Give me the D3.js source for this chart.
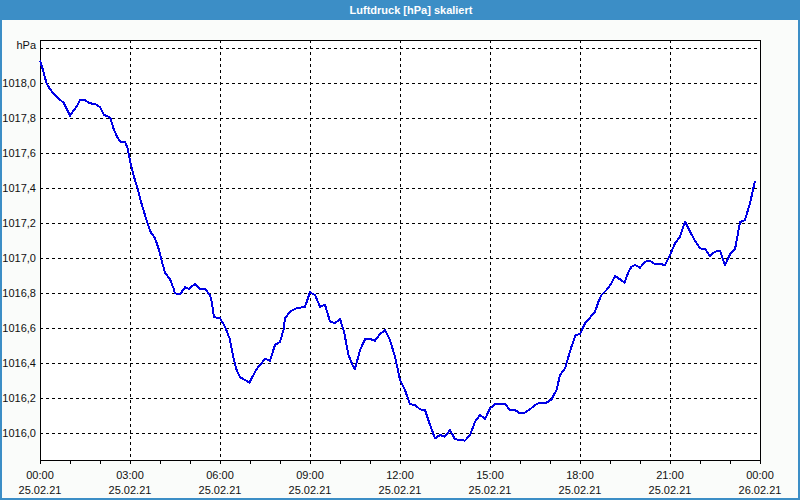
<!DOCTYPE html>
<html><head><meta charset="utf-8">
<script src="https://cdn.jsdelivr.net/npm/d3@7"></script>
<style>
html,body{margin:0;padding:0;background:#fafcfa;}
svg{display:block;}
text{font-family:"Liberation Sans",Arial,sans-serif;}
</style></head>
<body>
<svg id="chart" width="800" height="500"></svg>
<script>
const title = "Luftdruck [hPa] skaliert";
const unitLabel = "hPa";
// minutes since 25.02.21 00:00
const minutes = [0,7,13,20,33,47,52,60,67,73,80,90,99,110,120,128,137,141,148,155,161,170,175,181,188,195,201,208,215,221,230,237,243,250,260,267,270,280,290,298,310,320,330,340,344,348,
360,370,379,385,392,400,410,419,425,433,443,450,460,470,480,487,490,500,513,530,540,550,560,570,580,590,600,608,617,625,630,640,650,660,670,680,690,700,710,
720,730,740,750,760,770,779,790,800,810,820,830,840,850,860,870,880,890,900,910,930,940,950,960,970,980,990,1000,1013,1023,1033,1040,1050,1057,1063,1071,1080,
1090,1100,1110,1117,1123,1133,1143,1150,1160,1169,1177,1183,1190,1200,1210,1220,1230,1240,1250,1260,1270,1280,1290,1300,1310,1320,1330,1340,1350,1360,1370,1380,1390,1400,1410,1420,1430];
const pressure = [1018.13,1018.066,1018.00,1017.966,1017.923,1017.889,1017.863,1017.815,1017.843,1017.866,1017.905,1017.905,1017.886,1017.882,1017.863,1017.819,1017.809,1017.80,1017.733,1017.691,1017.666,1017.666,1017.629,1017.543,1017.466,1017.40,1017.333,1017.266,1017.20,1017.152,1017.114,1017.057,1016.99,1016.918,1016.88,1016.829,1016.80,1016.794,1016.834,1016.826,1016.853,1016.826,1016.826,1016.79,1016.744,1016.664,
1016.657,1016.609,1016.543,1016.457,1016.371,1016.32,1016.305,1016.289,1016.323,1016.366,1016.40,1016.426,1016.415,1016.505,1016.523,1016.59,1016.657,1016.695,1016.714,1016.723,1016.806,1016.79,1016.723,1016.735,1016.638,1016.629,1016.653,1016.581,1016.447,1016.39,1016.367,1016.476,1016.537,1016.539,1016.529,1016.567,1016.59,1016.533,1016.438,
1016.305,1016.247,1016.166,1016.162,1016.137,1016.133,1016.057,1015.971,1015.99,1015.981,1016.019,1015.966,1015.962,1015.958,1015.99,1016.066,1016.105,1016.082,1016.143,1016.166,1016.167,1016.133,1016.133,1016.114,1016.118,1016.137,1016.162,1016.175,1016.175,1016.194,1016.247,1016.333,1016.371,1016.438,1016.495,1016.562,1016.567,
1016.629,1016.661,1016.695,1016.752,1016.79,1016.819,1016.857,1016.899,1016.88,1016.861,1016.923,1016.952,1016.962,1016.946,1016.981,1016.985,1016.966,1016.967,1016.962,1017.019,1017.086,1017.123,1017.209,1017.152,1017.101,1017.057,1017.053,1017.013,1017.038,1017.043,1016.962,1017.023,1017.051,1017.206,1017.219,1017.314,1017.443];
const yTickValues = [1016.0,1016.2,1016.4,1016.6,1016.8,1017.0,1017.2,1017.4,1017.6,1017.8,1018.0];
const yTickLabels = ["1016,0","1016,2","1016,4","1016,6","1016,8","1017,0","1017,2","1017,4","1017,6","1017,8","1018,0"];
const unitLevel = 1018.2;
const xTickMinutes = [0,180,360,540,720,900,1080,1260,1440];
const xTickTimes = ["00:00","03:00","06:00","09:00","12:00","15:00","18:00","21:00","00:00"];
const xTickDates = ["25.02.21","25.02.21","25.02.21","25.02.21","25.02.21","25.02.21","25.02.21","25.02.21","26.02.21"];
const xMinorMinutes = d3.range(0, 1441, 60);

const svg = d3.select("#chart");
const L = 40, R = 760, T = 40, B = 460;
const x = d3.scaleLinear().domain([0,1440]).range([L,R]);
const y = d3.scaleLinear().domain([1015.8474,1018.2474]).range([B,T]);

// frame border + title bar
svg.append("rect").attr("x",0).attr("y",0).attr("width",800).attr("height",500).attr("fill","#fafcfa");
svg.append("rect").attr("x",0).attr("y",0).attr("width",800).attr("height",20).attr("fill","#3c8ec6");
svg.append("rect").attr("x",1).attr("y",1).attr("width",798).attr("height",498).attr("fill","none").attr("stroke","#3c8ec6").attr("stroke-width",2);
svg.append("text").attr("x",411).attr("y",14).attr("text-anchor","middle").attr("fill","#fff")
  .attr("font-weight","bold").attr("font-size","11px").text(title);

// plot area
svg.append("rect").attr("x",L).attr("y",T).attr("width",R-L).attr("height",B-T).attr("fill","#fff");

const g = svg.append("g").attr("shape-rendering","crispEdges");
// horizontal grid
g.selectAll("line.hg").data(yTickValues.concat([unitLevel])).join("line")
  .attr("x1",L).attr("x2",R).attr("y1",d=>Math.round(y(d))+0.5).attr("y2",d=>Math.round(y(d))+0.5)
  .attr("stroke","#000").attr("stroke-dasharray","3,3");
// vertical grid
g.selectAll("line.vg").data(xTickMinutes.slice(1,-1)).join("line")
  .attr("y1",T).attr("y2",B).attr("x1",d=>Math.round(x(d))+0.5).attr("x2",d=>Math.round(x(d))+0.5)
  .attr("stroke","#000").attr("stroke-dasharray","3,3");
// border
g.append("rect").attr("x",L+0.5).attr("y",T+0.5).attr("width",R-L).attr("height",B-T)
  .attr("fill","none").attr("stroke","#000");
// x ticks
g.selectAll("line.xt").data(xMinorMinutes).join("line")
  .attr("x1",d=>Math.round(x(d))+0.5).attr("x2",d=>Math.round(x(d))+0.5).attr("y1",B).attr("y2",B+4)
  .attr("stroke","#000");

// y labels
svg.selectAll("text.yl").data(yTickValues).join("text")
  .attr("x",36).attr("y",d=>y(d)+4).attr("text-anchor","end").attr("font-size","11px").attr("fill","#111")
  .text((d,i)=>yTickLabels[i]);
svg.append("text").attr("x",36).attr("y",y(unitLevel)+1).attr("text-anchor","end").attr("font-size","11px").attr("fill","#111").text(unitLabel);

// x labels
svg.selectAll("text.xl").data(xTickMinutes).join("text")
  .attr("x",d=>x(d)).attr("y",479).attr("text-anchor","middle").attr("font-size","11px").attr("fill","#111")
  .text((d,i)=>xTickTimes[i]);
svg.selectAll("text.xd").data(xTickMinutes).join("text")
  .attr("x",d=>x(d)).attr("y",494).attr("text-anchor","middle").attr("font-size","11px").attr("fill","#111")
  .text((d,i)=>xTickDates[i]);

// line
const pts = minutes.map((m,i)=>[m,pressure[i]]);
svg.append("path").datum(pts)
  .attr("fill","none").attr("stroke","#0000e6").attr("stroke-width",2).attr("stroke-linejoin","round")
  .attr("shape-rendering","crispEdges")
  .attr("d", d3.line().x(d=>x(d[0])).y(d=>y(d[1])));
</script>
</body></html>
